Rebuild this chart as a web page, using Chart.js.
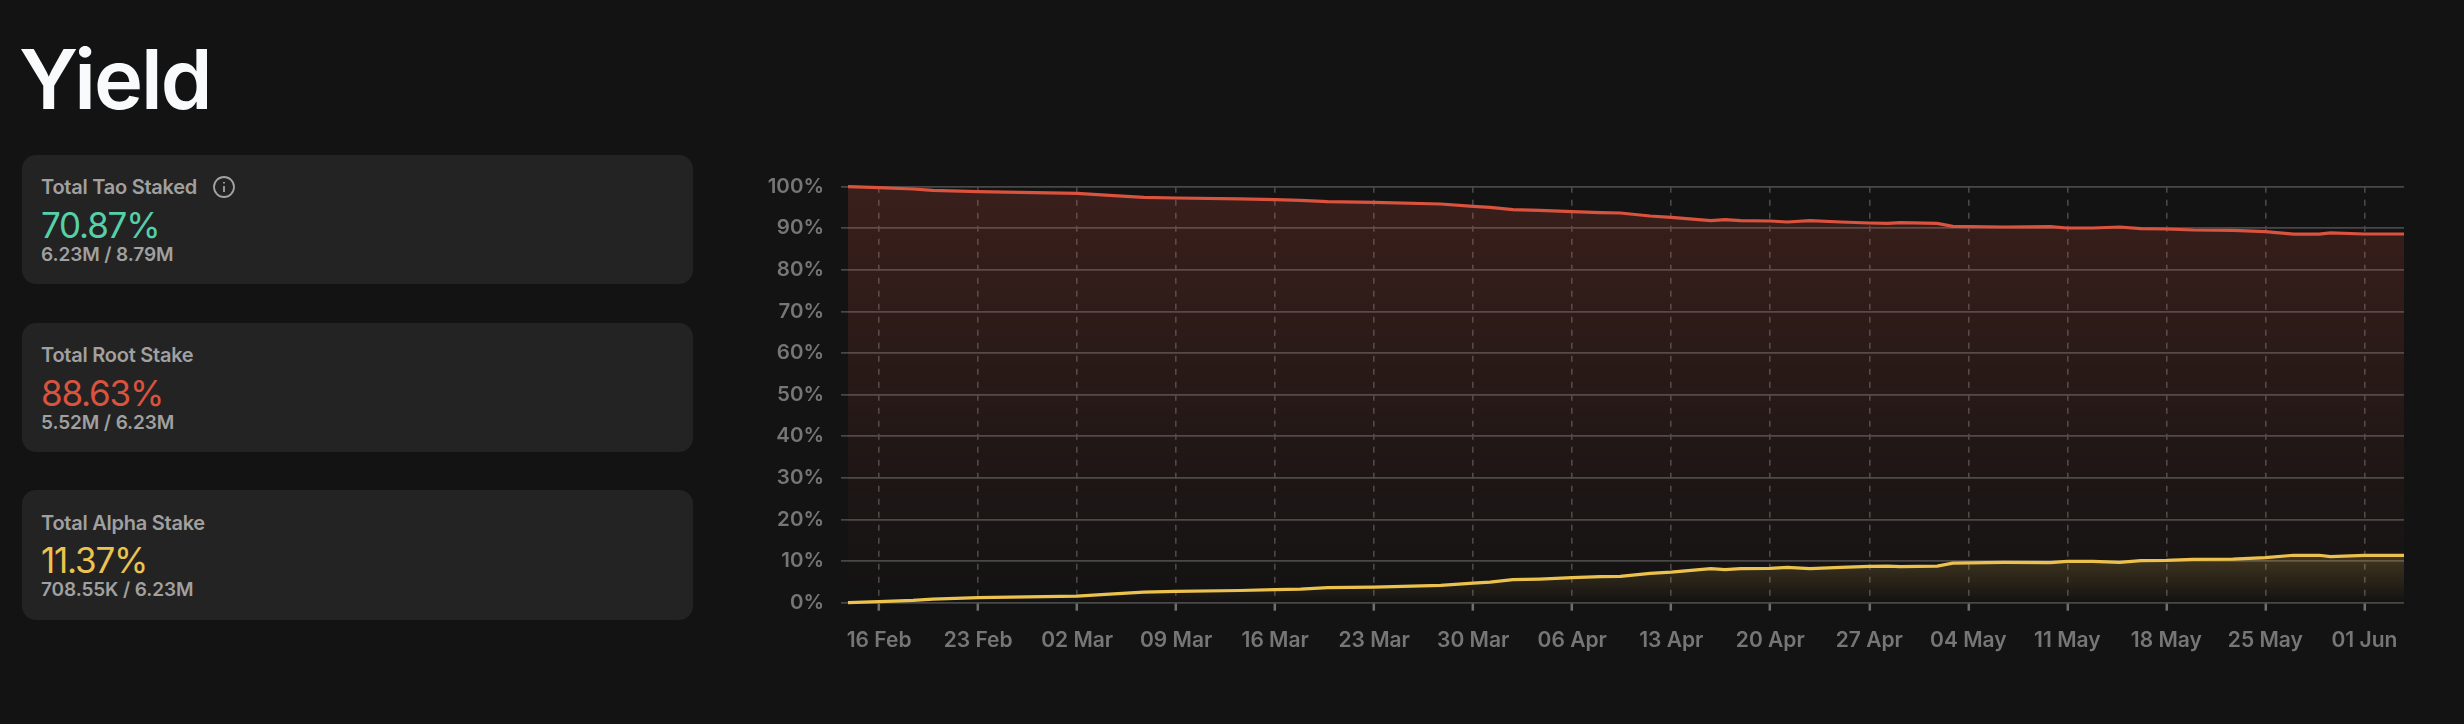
<!DOCTYPE html>
<html><head><meta charset="utf-8">
<script src="https://cdn.jsdelivr.net/npm/chart.js@4"></script>
<style>
html,body{margin:0;padding:0;background:#131313;width:2464px;height:724px;overflow:hidden;font-family:Inter,sans-serif}
h1{position:absolute;left:19px;top:31px;margin:0;font-size:83px;line-height:96px;font-weight:600;color:#f8fafb;letter-spacing:-2px}
.card{position:absolute;left:22px;width:671px;height:129px;background:#232323;border-radius:14px}
.l{position:absolute;left:19px;top:19px;font-size:20px;line-height:26px;font-weight:600;color:#a0a0a0;letter-spacing:-.25px;white-space:nowrap}
.v{position:absolute;left:19px;top:48px;font-size:35px;line-height:44px;font-weight:400;letter-spacing:-1.2px;white-space:nowrap}
.s{position:absolute;left:19px;top:88px;font-size:19px;line-height:24px;font-weight:600;color:#a0a0a0;letter-spacing:-.1px;white-space:nowrap}
svg.i{position:absolute;left:190px;top:20px}
canvas{position:absolute;left:700px;top:0}
</style></head><body>
<h1>Yield</h1>
<div class="card" style="top:155px"><div class="l">Total Tao Staked</div><svg class="i" width="24" height="24" viewBox="0 0 24 24" fill="none" stroke="#a3a3a3" stroke-width="1.8"><circle cx="12" cy="12" r="10"/><line x1="12" y1="11" x2="12" y2="17"/><line x1="12" y1="7" x2="12" y2="8.6"/></svg><div class="v" style="color:#56d0a8">70.87%</div><div class="s">6.23M / 8.79M</div></div>
<div class="card" style="top:323px"><div class="l">Total Root Stake</div><div class="v" style="color:#d9533f">88.63%</div><div class="s">5.52M / 6.23M</div></div>
<div class="card" style="top:490px;height:130px"><div class="l" style="top:20px">Total Alpha Stake</div><div class="v" style="color:#ecc34f">11.37%</div><div class="s">708.55K / 6.23M</div></div>
<canvas id="c" width="1764" height="724" style="width:1764px;height:724px"></canvas>
<script>
// Days counted from 16 Feb
const days = [-2.2,0,2.4,3.8,7,14,16.3,18.7,21,25.5,28,29.8,31.7,35,39.7,42,43.2,44.8,46.7,49,51,52.4,54.5,56,58.8,59.8,60.9,63,64.2,65.8,68,70,71.3,72.2,74.8,75.9,79.5,82.8,84,85.8,87.7,89.2,91,92.9,95.7,98,100,101.8,102.6,105,107.8];
const rootStake = [100,99.76,99.45,99.13,98.8,98.41,97.93,97.45,97.28,97.07,96.88,96.73,96.39,96.25,95.84,95.29,95.05,94.47,94.33,93.99,93.75,93.68,92.96,92.64,91.83,92.07,91.83,91.75,91.51,91.83,91.51,91.27,91.2,91.35,91.2,90.48,90.31,90.38,90.07,90.07,90.31,89.9,89.83,89.59,89.52,89.18,88.6,88.6,88.92,88.63,88.63];
const alphaStake = [0,0.24,0.55,0.87,1.2,1.59,2.07,2.55,2.72,2.93,3.12,3.27,3.61,3.75,4.16,4.71,4.95,5.53,5.67,6.01,6.25,6.32,7.04,7.36,8.17,7.93,8.17,8.25,8.49,8.17,8.49,8.73,8.8,8.65,8.8,9.52,9.69,9.62,9.93,9.93,9.69,10.1,10.17,10.41,10.48,10.82,11.4,11.4,11.08,11.37,11.37];
const xTickLabels = ["16 Feb","23 Feb","02 Mar","09 Mar","16 Mar","23 Mar","30 Mar","06 Apr","13 Apr","20 Apr","27 Apr","04 May","11 May","18 May","25 May","01 Jun"];
const yTicks = [0,10,20,30,40,50,60,70,80,90,100];

const toXY = v => v.map((y,i)=>({x:days[i],y}));
function fade(rgb,a,top){
  return c=>{
    const {chart}=c; const ca=chart.chartArea; if(!ca) return 'transparent';
    const g=chart.ctx.createLinearGradient(0,chart.scales.y.getPixelForValue(top),0,ca.bottom);
    g.addColorStop(0,`rgba(${rgb},${a})`); g.addColorStop(1,`rgba(${rgb},0)`);
    return g;
  };
}
new Chart(document.getElementById('c'),{
  type:'line',
  data:{datasets:[
    {label:'Total Root Stake',data:toXY(rootStake),borderColor:'#d9533f',borderWidth:3.2,pointRadius:0,tension:0,fill:'origin',backgroundColor:fade('217,83,63',0.2,100),clip:false},
    {label:'Total Alpha Stake',data:toXY(alphaStake),borderColor:'#ecc34f',borderWidth:3.2,pointRadius:0,tension:0,fill:'origin',backgroundColor:fade('236,195,79',0.2,11.4),clip:false}
  ]},
  options:{
    responsive:false,animation:false,
    layout:{padding:{left:0,right:60,top:186.7,bottom:51.3}},
    plugins:{legend:{display:false},tooltip:{enabled:false}},
    scales:{
      x:{type:'linear',min:-2.2,max:107.8,
        afterBuildTicks:s=>{s.ticks=xTickLabels.map((_,i)=>({value:i*7}));},
        afterFit:s=>{s.height=70;},
        grid:{color:'#484848',lineWidth:1.6,drawTicks:true,tickLength:8,tickColor:'#6f6f6f',tickWidth:2.5,tickBorderDash:[]},
        border:{display:false,dash:[6,7]},
        ticks:{color:'#767676',font:{family:'Inter',size:21,weight:'600'},padding:17,maxRotation:0,autoSkip:false,
          callback:v=>xTickLabels[Math.round(v/7)]}
      },
      y:{min:0,max:100,
        afterBuildTicks:s=>{s.ticks=yTicks.map(value=>({value}));},
        afterFit:s=>{s.width=148;},
        grid:{color:'#484848',lineWidth:1.7,tickLength:7,tickColor:'#484848'},
        border:{display:false},
        ticks:{color:'#767676',font:{family:'Inter',size:20.5,weight:'600'},padding:17,callback:v=>v+'%'}
      }
    }
  }
});
</script>
</body></html>
